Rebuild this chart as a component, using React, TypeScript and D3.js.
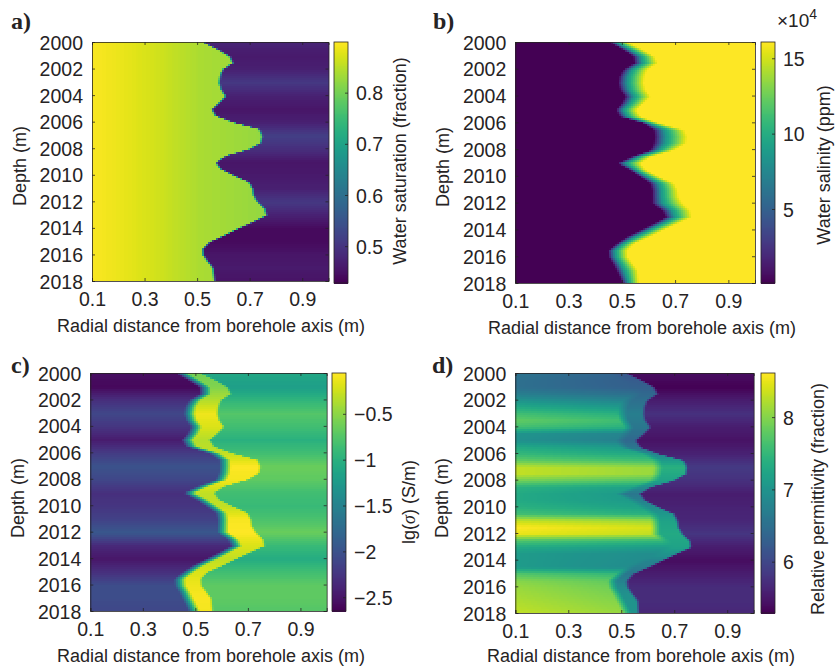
import React, { useRef, useEffect } from "react";
import * as d3 from "d3";

// values, one entry per half metre of depth
const depths = d3.range(2000, 2018.5, 0.5);
const frontEdge = [
  0.524, 0.575, 0.62, 0.632, 0.594, 0.584, 0.581, 0.587, 0.606, 0.581, 0.552, 0.568, 0.638,
  0.733, 0.744, 0.74, 0.695, 0.606, 0.568, 0.587, 0.638, 0.695, 0.708, 0.712, 0.727, 0.755,
  0.76, 0.705, 0.651, 0.6, 0.543, 0.518, 0.52, 0.539, 0.558, 0.56, 0.562,
];
const mixEdge = [
  0.448, 0.49, 0.53, 0.533, 0.492, 0.477, 0.473, 0.48, 0.499, 0.486, 0.464, 0.48, 0.568, 0.606,
  0.609, 0.606, 0.594, 0.524, 0.469, 0.518, 0.556, 0.594, 0.6, 0.6, 0.6, 0.638, 0.651, 0.606,
  0.556, 0.505, 0.467, 0.435, 0.438, 0.454, 0.467, 0.48, 0.492,
];

// one entry per metre of depth
const wholeDepths = d3.range(2000, 2019, 1);
const satOuter = [0.475, 0.46, 0.47, 0.505, 0.47, 0.455, 0.47, 0.515, 0.49, 0.455, 0.46, 0.47, 0.505, 0.47, 0.44, 0.44, 0.455, 0.46, 0.45];
const condInner = [-2.55, -2.6, -2.3, -2.1, -2.25, -2.45, -2.2, -2.0, -2.1, -2.3, -2.25, -2.15, -1.95, -2.35, -2.5, -2.3, -2.05, -2.05, -2.1];
const condOuter = [-1.1, -1.2, -0.95, -0.75, -0.85, -1.0, -0.85, -0.65, -0.7, -0.85, -0.9, -0.8, -0.65, -0.9, -1.05, -0.85, -0.7, -0.7, -0.75];
const condPeak = [-0.6, -0.55, -0.35, -0.12, -0.2, -0.35, -0.3, -0.06, -0.1, -0.3, -0.3, -0.08, -0.06, -0.2, -0.3, -0.2, -0.12, -0.08, -0.1];
const permMid = [6.2, 6.3, 6.5, 6.7, 6.6, 6.4, 6.8, 7.4, 7.2, 6.6, 6.9, 7.2, 7.3, 7.2, 6.8, 6.6, 6.9, 7.0, 7.0];
const permOuter = [5.4, 5.3, 5.55, 5.75, 5.55, 5.45, 5.6, 5.85, 5.75, 5.55, 5.6, 5.65, 5.8, 5.55, 5.4, 5.55, 5.7, 5.7, 5.65];
const permInner = [
  6.45, 6.4, 6.4, 6.6, 6.9, 7.2, 7.5, 7.7, 7.5, 6.9, 6.85, 7.2, 7.4, 7.7, 8.2, 8.2, 7.8, 7.3, 7.2,
  7.2, 7.3, 7.5, 8.2, 8.5, 8.4, 7.6, 7.2, 7.0, 7.0, 7.0, 7.6, 7.9, 8.0, 8.05, 8.1, 8.15, 8.2,
];
const satRadius = [0.1, 0.2, 0.35, 0.5, 0.8];
const satInner = [0.895, 0.885, 0.865, 0.84, 0.82];

const xTicks = [0.1, 0.3, 0.5, 0.7, 0.9];
const yTicks = [2000, 2002, 2004, 2006, 2008, 2010, 2012, 2014, 2016, 2018];
const satTicks = [0.5, 0.6, 0.7, 0.8];
const salTicks = [5, 10, 15];
const condTicks = [-2.5, -2, -1.5, -1, -0.5];
const permTicks = [6, 7, 8];
const xTitle = "Radial distance from borehole axis (m)";

const ink = "#262324";
const sansFont = "'Liberation Sans', Arial, sans-serif";
const serifFont = "'Liberation Serif', serif";

const along = (xs: number[], ys: number[]) => d3.scaleLinear().domain(xs).range(ys).clamp(true);
const front = along(depths, frontEdge);
const mix = along(depths, mixEdge);
const permIn = along(depths, permInner);
const byMetre = (ys: number[]) => along(wholeDepths, ys);

// each panel returns the radial profile for one depth
const satProfile = (z: number) => {
  const f = front(z);
  const base = along(satRadius, satInner);
  const out = byMetre(satOuter)(z);
  return (r: number) => (r < f - 0.005 ? base(r) : r > f + 0.005 ? out : base(f) + ((r - f + 0.005) / 0.01) * (out - base(f)));
};
const salProfile = (z: number) => {
  const f = front(z);
  const m = mix(z) + 0.01;
  return along([0.1, m, m + (f - m) * 0.35, f, 1], [0.09, 0.09, 8.5, 16.08, 16.08]);
};
const condProfile = (z: number) => {
  const f = front(z);
  const m = mix(z);
  const inner = byMetre(condInner)(z);
  const peak = byMetre(condPeak)(z);
  const out = byMetre(condOuter)(z);
  return along([0.1, m - 0.02, m + 0.025, f - 0.005, f + 0.005, 1], [inner, inner, peak, peak, out, out]);
};
const permProfile = (z: number) => {
  const f = front(z);
  const m = mix(z);
  const inner = permIn(z);
  const mid = byMetre(permMid)(z);
  const out = byMetre(permOuter)(z);
  return along([0.1, m + 0.01, m + 0.045, f - 0.006, f + 0.006, 1], [inner + 0.1, inner - 0.1, mid, mid, out, out]);
};

const panels = [
  {
    letter: "a)", lx: 11, ly: 29, x0: 92, x1: 328.5, y0: 42, y1: 281, cx: 334, cy0: 42, cy1: 283,
    domain: [0.428, 0.899], ticks: satTicks, fmt: d3.format(".1f"), profile: satProfile,
    title: "Water saturation (fraction)", tx: 400, ty: 161, xt: 211, xb: 332, dx: 20, dy: 166,
  },
  {
    letter: "b)", lx: 433, ly: 29, x0: 515.3, x1: 755, y0: 42, y1: 283, cx: 761, cy0: 42, cy1: 283,
    domain: [0.09, 16.08], ticks: salTicks, fmt: d3.format("d"), profile: salProfile,
    title: "Water salinity (ppm)", tx: 824, ty: 165, xt: 642, xb: 334, dx: 443, dy: 167,
  },
  {
    letter: "c)", lx: 11, ly: 373, x0: 90.3, x1: 326.7, y0: 373, y1: 611, cx: 332, cy0: 373, cy1: 611,
    domain: [-2.65, -0.055], ticks: condTicks, fmt: (v: number) => `${v}`.replace("-", "\u2212"), profile: condProfile,
    title: "", tx: 409, ty: 502, xt: 211, xb: 662, dx: 18, dy: 498,
  },
  {
    letter: "d)", lx: 432, ly: 373, x0: 515.3, x1: 753.7, y0: 373, y1: 613, cx: 761, cy0: 373, cy1: 613,
    domain: [5.29, 8.61], ticks: permTicks, fmt: d3.format("d"), profile: permProfile,
    title: "Relative permittivity (fraction)", tx: 818, ty: 499, xt: 641, xb: 662, dx: 442, dy: 498,
  },
];

export default function App() {
  const svgRef = useRef<SVGSVGElement>(null);

  useEffect(() => {
    const svg = d3.select(svgRef.current);
    svg.selectAll("*").remove();

    panels.forEach((p) => {
      const g = svg.append("g");
      const xScale = d3.scaleLinear().domain([0.1, 1]).range([p.x0, p.x1]);
      const yScale = d3.scaleLinear().domain([2000, 2018]).range([p.y0, p.y1]);
      const colour = d3.scaleSequential(d3.interpolateViridis).domain(p.domain as [number, number]);

      // heat map cells, about 2px square
      const rows = d3.range(p.y0, p.y1, 2).map((py) => yScale.invert(py));
      const cols = d3.range(p.x0, p.x1, 2).map((px) => xScale.invert(px));
      const cells = g.append("g").attr("shape-rendering", "crispEdges");
      rows.forEach((z) => {
        const profile = p.profile(z);
        cols.forEach((r) => {
          cells
            .append("rect")
            .attr("x", xScale(r))
            .attr("y", yScale(z))
            .attr("width", Math.min(2.5, p.x1 - xScale(r)))
            .attr("height", Math.min(2.5, p.y1 - yScale(z)))
            .attr("fill", colour(profile(r)));
        });
      });

      // axes, ticks inside on all four sides like the original box
      const bottom = g.append("g").attr("transform", `translate(0,${p.y1})`).call(
        d3.axisBottom(xScale).tickValues(xTicks).tickSize(-3).tickFormat(d3.format(".1f") as any)
      );
      const left = g.append("g").attr("transform", `translate(${p.x0},0)`).call(
        d3.axisLeft(yScale).tickValues(yTicks).tickSize(-3).tickFormat(d3.format("d") as any)
      );
      g.append("g").attr("transform", `translate(0,${p.y0})`).call(
        d3.axisTop(xScale).tickValues(xTicks).tickSize(-3).tickFormat(() => "")
      );
      g.append("g").attr("transform", `translate(${p.x1},0)`).call(
        d3.axisRight(yScale).tickValues(yTicks).tickSize(-3).tickFormat(() => "")
      );
      bottom.selectAll("text").attr("y", 0).attr("dy", 25);
      left.selectAll("text").attr("x", -9).attr("dy", "0.36em");

      // colour bar
      const barScale = d3.scaleLinear().domain(p.domain).range([p.cy1, p.cy0]);
      const bar = g.append("g").attr("shape-rendering", "crispEdges");
      d3.range(p.cy0, p.cy1, 1).forEach((py) => {
        bar
          .append("rect")
          .attr("x", p.cx)
          .attr("y", py)
          .attr("width", 14)
          .attr("height", 1.5)
          .attr("fill", colour(barScale.invert(py + 0.5)));
      });
      const barAxis = g.append("g").attr("transform", `translate(${p.cx + 14},0)`).call(
        d3.axisRight(barScale).tickValues(p.ticks).tickSize(-3).tickFormat(p.fmt as any)
      );
      barAxis.selectAll("text").attr("x", 8).attr("dy", "0.36em");
      g.append("rect")
        .attr("x", p.cx)
        .attr("y", p.cy0)
        .attr("width", 14)
        .attr("height", p.cy1 - p.cy0)
        .attr("fill", "none")
        .attr("stroke", ink)
        .attr("stroke-width", 0.8);

      [bottom, left, barAxis].forEach((a) => a.selectAll("text").attr("fill", ink).attr("font-size", 19.5).attr("font-family", sansFont));
      g.selectAll(".domain").attr("stroke", ink).attr("stroke-width", 0.8);
      g.selectAll(".tick line").attr("stroke", ink).attr("stroke-width", 0.8);
      g.selectAll(".domain").filter(function () {
        return (this as Element).parentElement === barAxis.node();
      }).remove();

      // titles
      const label = (text: string, x: number, y: number, rotate: boolean) =>
        g
          .append("text")
          .attr("transform", `translate(${x},${y})${rotate ? " rotate(-90)" : ""}`)
          .attr("text-anchor", "middle")
          .attr("fill", ink)
          .attr("font-family", sansFont)
          .attr("font-size", 18)
          .text(text);

      label(xTitle, p.xt, p.xb, false);
      label("Depth (m)", p.dx + 6, p.dy, true);
      if (p.title) {
        label(p.title, p.tx + 6, p.ty, true);
      } else {
        const t = label("lg(", p.tx + 6, p.ty, true);
        t.append("tspan").attr("font-family", serifFont).attr("font-style", "italic").text("\u03c3");
        t.append("tspan").text(") (S/m)");
      }

      g.append("text")
        .attr("x", p.lx)
        .attr("y", p.ly)
        .attr("font-family", serifFont)
        .attr("font-weight", "bold")
        .attr("font-size", 24)
        .attr("fill", ink)
        .text(p.letter);
    });

    // exponent over the salinity colour bar
    const exp = svg.append("text").attr("x", 777).attr("y", 27).attr("fill", ink).attr("font-family", sansFont).attr("font-size", 19);
    exp.append("tspan").text("\u00d710");
    exp.append("tspan").attr("font-size", 14).attr("dy", -8).text("4");
  }, []);

  return (
    <svg
      ref={svgRef}
      width={835}
      height={666}
      viewBox="0 0 835 666"
      style={{ position: "absolute", left: 0, top: 0, background: "#fff" }}
    />
  );
}
